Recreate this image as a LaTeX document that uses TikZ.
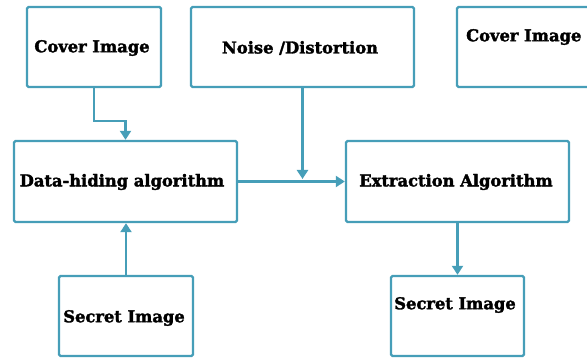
\documentclass[tikz,border=0pt]{standalone}
\usepackage{fontspec}
\setmainfont{DejaVu Serif}[BoldFeatures={FakeBold=2}]
\usetikzlibrary{arrows.meta,calc}
\definecolor{teal1}{RGB}{70,158,184}
\tikzset{
  box/.style={draw=teal1, line width=2.4pt, rounded corners=1.5pt, inner sep=0pt, fill=white},
  lbl/.style={font=\fontsize{16.3}{19}\selectfont\bfseries, text=black, inner sep=0pt},
  arr/.style={draw=teal1, line width=2.4pt, -{Triangle[width=11pt,length=9pt]}},
  ln/.style={draw=teal1, line width=2.4pt}
}
\begin{document}
\begin{tikzpicture}[x=1pt,y=-1pt]
\useasboundingbox (0,0) rectangle (587,358);
\clip (0,0) rectangle (587,358);
% boxes
\node[box, minimum width=134pt, minimum height=80pt] (c1) at (94,47) {};
\node[box, minimum width=223pt, minimum height=80pt] (noise) at (302.5,47) {};
\node[box, minimum width=170pt, minimum height=80pt] (c2) at (542,47) {};
\node[box, minimum width=223pt, minimum height=81pt] (dh) at (125.5,181.5) {};
\node[box, minimum width=223pt, minimum height=81pt] (ex) at (457.5,181.5) {};
\node[box, minimum width=134pt, minimum height=80pt] (s1) at (126,316) {};
\node[box, minimum width=133pt, minimum height=80pt] (s2) at (457.5,316) {};
% texts
\node[lbl] (c1t) at (92,48) {Cover Image};
\node[lbl] (noiset) at (300,48) {Noise /Distortion};
\node[lbl, anchor=west] (c2t) at (466,37) {Cover Image};
\node[lbl] (dht) at (122,182) {Data-hiding algorithm};
\node[lbl] (ext) at (456,182) {Extraction Algorithm};
\node[lbl] (s1t) at (124,318) {Secret Image};
\node[lbl] (s2t) at (455,305) {Secret Image};
% connectors
\coordinate (nz) at (noise.south |- 0,179);
\draw[arr] (c1.south) -- ++(0,33) -| (dh.north);
\draw[arr] (s1.north) -- (s1.north |- dh.south);
\draw[arr] (dh.east) -- (ex.west);
\draw[arr] (noise.south) -- (nz);
\draw[arr] (ex.south) -- (s2.north);
\end{tikzpicture}
\end{document}
